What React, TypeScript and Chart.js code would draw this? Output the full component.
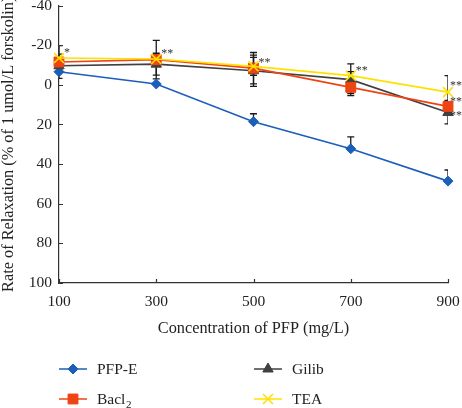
import React, { useEffect, useRef } from 'react';
import { Chart, registerables } from 'chart.js';
import { drawPoint } from 'chart.js/helpers';

Chart.register(...registerables);

const concentrations = [100, 300, 500, 700, 900];
const pfpE = [-6.6, -0.4, 18.6, 32.3, 48.6];
const pfpEErr = [0, 0, 4, 6, 5.6];
const bacl2 = [-11.5, -12.7, -8.4, 1.3, 10.9];
const bacl2Err = [8.3, 9.7, 7.9, 3, 3];
const gilib = [-9.6, -10.4, -7.1, -2.6, 14];
const gilibErr = [2, 5.5, 7.9, 8, 5.7];
const tea = [-13.5, -13, -9.3, -4.6, 3.7];
const teaErr = [2, 2, 4.5, 2, 8.3];

const xTicks = [100, 300, 500, 700, 900];
const yTicks = [-40, -20, 0, 20, 40, 60, 80, 100];

const sigX = [100, 300, 500, 700, 900, 900, 900];
const sigY = [-17.7, -17.2, -12.6, -8.4, -0.9, 7.2, 14];
const sigText = ['*', '**', '**', '**', '**', '**', '**'];

const xTitle = 'Concentration of PFP (mg/L)';
const yTitle = 'Rate of Relaxation (% of 1 umol/L forskolin)';

const BLUE = '#1b5fb8';
const RED = '#ee4412';
const GRAY = '#404040';
const YELLOW = '#ffe100';
const TEXT = '#222222';
const FONT = '"Liberation Serif", "Times New Roman", serif';

const series = [
  { label: 'PFP-E', sub: '', data: pfpE, err: pfpEErr, oneSided: true, color: BLUE, style: 'rectRot', radius: 5, bw: 1, order: 3 },
  { label: 'Bacl', sub: '2', data: bacl2, err: bacl2Err, oneSided: false, color: RED, style: 'rect', radius: 7, bw: 1, order: 1 },
  { label: 'Gilib', sub: '', data: gilib, err: gilibErr, oneSided: false, color: GRAY, style: 'triangle', radius: 6, bw: 1, order: 2 },
  { label: 'TEA', sub: '', data: tea, err: teaErr, oneSided: false, color: YELLOW, style: 'crossRot', radius: 7, bw: 1.6, order: 0 },
];

const overlay = {
  id: 'overlay',
  beforeDatasetsDraw(chart: any) {
    const { ctx, chartArea } = chart;
    const xs = chart.scales.x;
    const ys = chart.scales.y;
    ctx.save();
    ctx.beginPath();
    ctx.rect(chartArea.left, 0, chartArea.right - chartArea.left, chart.height);
    ctx.clip();
    ctx.strokeStyle = '#1a1a1a';
    ctx.lineWidth = 1.3;
    series.forEach((s) => {
      s.data.forEach((v, i) => {
        const e = s.err[i];
        if (!e) return;
        const px = xs.getPixelForValue(concentrations[i]);
        const top = ys.getPixelForValue(v - e);
        const bot = s.oneSided ? ys.getPixelForValue(v) : ys.getPixelForValue(v + e);
        ctx.beginPath();
        ctx.moveTo(px, top);
        ctx.lineTo(px, bot);
        ctx.moveTo(px - 3.5, top);
        ctx.lineTo(px + 3.5, top);
        if (!s.oneSided) {
          ctx.moveTo(px - 3.5, bot);
          ctx.lineTo(px + 3.5, bot);
        }
        ctx.stroke();
      });
    });
    ctx.restore();
  },
  afterDatasetsDraw(chart: any) {
    const { ctx, chartArea } = chart;
    const xs = chart.scales.x;
    const ys = chart.scales.y;
    ctx.save();
    ctx.fillStyle = '#333';
    ctx.font = `12px ${FONT}`;
    ctx.textAlign = 'left';
    ctx.textBaseline = 'alphabetic';
    sigX.forEach((xv, i) => {
      const px = Math.min(xs.getPixelForValue(xv) + 5, chartArea.right + 2);
      const py = ys.getPixelForValue(sigY[i]) + 6;
      ctx.fillText(sigText[i], px, py);
    });
    ctx.restore();
  },
  afterDraw(chart: any) {
    const { ctx, chartArea } = chart;
    const xs = chart.scales.x;
    const ys = chart.scales.y;
    ctx.save();
    // inward tick marks
    ctx.strokeStyle = '#333';
    ctx.lineWidth = 1.2;
    ctx.beginPath();
    yTicks.forEach((v) => {
      const p = Math.round(ys.getPixelForValue(v)) + 0.5;
      ctx.moveTo(chartArea.left, p);
      ctx.lineTo(chartArea.left + 4, p);
    });
    xTicks.forEach((v) => {
      const p = Math.round(xs.getPixelForValue(v)) + 0.5;
      ctx.moveTo(p, chartArea.bottom);
      ctx.lineTo(p, chartArea.bottom - 4);
    });
    ctx.stroke();

    // titles
    ctx.fillStyle = TEXT;
    ctx.font = `16.3px ${FONT}`;
    ctx.textAlign = 'center';
    ctx.textBaseline = 'alphabetic';
    ctx.fillText(xTitle, (chartArea.left + chartArea.right) / 2, 333);
    ctx.save();
    ctx.translate(13, (chartArea.top + chartArea.bottom) / 2);
    ctx.rotate(-Math.PI / 2);
    ctx.fillText(yTitle, 0, 0);
    ctx.restore();

    // legend
    const cols = [[59, 87, 97], [254, 282, 292]];
    const rows = [[369, 374], [399, 404]];
    const slots = [[0, 0], [0, 1], [1, 0], [1, 1]];
    series.forEach((s, i) => {
      const [c, r] = slots[i];
      const [x1, x2, tx] = cols[c];
      const [my, by] = rows[r];
      ctx.strokeStyle = s.color;
      ctx.lineWidth = 1.5;
      ctx.beginPath();
      ctx.moveTo(x1, my);
      ctx.lineTo(x2, my);
      ctx.stroke();
      ctx.fillStyle = s.color;
      ctx.strokeStyle = s.color;
      ctx.lineWidth = s.bw;
      drawPoint(ctx, { pointStyle: s.style, radius: s.radius, rotation: 0, borderWidth: s.bw } as any, (x1 + x2) / 2, my);
      ctx.fillStyle = TEXT;
      ctx.font = `15.5px ${FONT}`;
      ctx.textAlign = 'left';
      ctx.textBaseline = 'alphabetic';
      ctx.fillText(s.label, tx, by);
      if (s.sub) {
        const w = ctx.measureText(s.label).width;
        ctx.font = `11px ${FONT}`;
        ctx.fillText(s.sub, tx + w + 0.5, by + 4);
      }
    });
    ctx.restore();
  },
};

export default function App() {
  const ref = useRef<HTMLCanvasElement | null>(null);
  useEffect(() => {
    document.body.style.margin = '0';
    const canvas = ref.current;
    if (!canvas) return;
    const chart = new Chart(canvas, {
      type: 'line',
      data: {
        datasets: series.map((s) => ({
          label: s.sub ? s.label + s.sub : s.label,
          data: concentrations.map((c, i) => ({ x: c, y: s.data[i] })),
          borderColor: s.color,
          backgroundColor: s.color,
          pointBackgroundColor: s.color,
          pointBorderColor: s.color,
          pointStyle: s.style as any,
          pointRadius: s.radius,
          pointBorderWidth: s.bw,
          borderWidth: 1.6,
          tension: 0,
          clip: false as any,
          order: s.order,
        })),
      },
      options: {
        animation: false,
        responsive: false,
        devicePixelRatio: 1,
        layout: { autoPadding: false, padding: { top: 5.5, right: 14, left: 0, bottom: 0 } },
        plugins: { legend: { display: false }, tooltip: { enabled: false } },
        scales: {
          x: {
            type: 'linear',
            min: 100,
            max: 900,
            afterBuildTicks: (s: any) => {
              s.ticks = xTicks.map((v) => ({ value: v }));
            },
            afterFit: (s: any) => {
              s.height = 125;
              s.paddingLeft = 0;
              s.paddingRight = 0;
            },
            ticks: {
              font: { family: FONT, size: 15.5 },
              color: TEXT,
              padding: 10,
              maxRotation: 0,
              autoSkip: false,
            },
            grid: { display: false, drawTicks: false },
            border: { display: true, color: '#333', width: 1.2 },
          },
          y: {
            type: 'linear',
            reverse: true,
            min: -40,
            max: 100,
            afterBuildTicks: (s: any) => {
              s.ticks = yTicks.map((v) => ({ value: v }));
            },
            afterFit: (s: any) => {
              s.width = 59;
              s.paddingTop = 0;
              s.paddingBottom = 0;
            },
            ticks: {
              font: { family: FONT, size: 15.5 },
              color: TEXT,
              padding: 7,
              autoSkip: false,
            },
            grid: { display: false, drawTicks: false },
            border: { display: true, color: '#333', width: 1.2 },
          },
        },
      },
      plugins: [overlay],
    });
    return () => chart.destroy();
  }, []);
  return <canvas ref={ref} width={462} height={408} style={{ display: 'block' }} />;
}
